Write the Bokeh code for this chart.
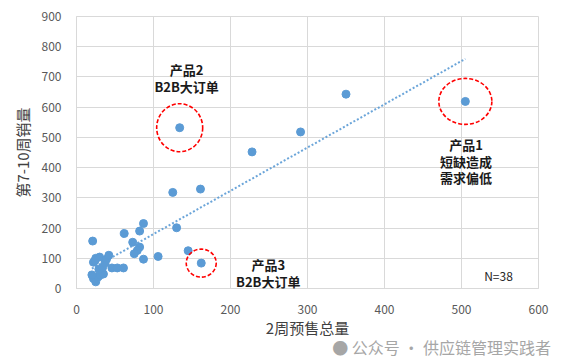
import numpy as np
from bokeh.plotting import figure
from bokeh.models import Range1d, FixedTicker, Label, Title
from bokeh.core.properties import value
from bokeh.embed import file_html
from bokeh.resources import INLINE

# 2-week pre-sale total (x) and week 7-10 sales (y), 38 products
presale = [134, 228, 291, 350, 505, 125, 161,
           87, 130, 62, 82, 21, 73, 82, 79, 75, 87, 106, 145, 162,
           22, 25, 28, 31, 35, 29, 34, 46, 53, 61, 22, 25, 30, 37, 39, 42, 20, 24]
sales = [532, 452, 518, 643, 619, 318, 329,
         215, 201, 182, 190, 157, 153, 137, 126, 115, 97, 106, 125, 84,
         33, 22, 38, 45, 48, 64, 70, 68, 68, 68, 87, 100, 104, 84, 97, 110, 45, 92]

x_ticks = [0, 100, 200, 300, 400, 500, 600]
y_ticks = [0, 100, 200, 300, 400, 500, 600, 700, 800, 900]

x_title = "2周预售总量"
y_title = "第7-10周销量"
n_label = "N=38"
watermark = "●  公众号 · 供应链管理实践者"

# highlighted products: (index into data, label lines)
highlights = [
    (4, ["产品1", "短缺造成", "需求偏低"]),
    (0, ["产品2", "B2B大订单"]),
    (19, ["产品3", "B2B大订单"]),
]

FONT = "Noto Sans CJK SC"
BLUE = "#5b9bd5"
GRID = "#d9d9d9"

p = figure(width=562, height=357, output_backend="svg", toolbar_location=None,
           x_range=Range1d(x_ticks[0], x_ticks[-1]), y_range=Range1d(y_ticks[0], y_ticks[-1]),
           min_border_left=76, min_border_right=24, min_border_top=16, min_border_bottom=69)
p.background_fill_color = "white"
p.border_fill_color = "white"
p.outline_line_color = GRID

for ax in (p.xaxis, p.yaxis):
    ax.axis_line_color = GRID
    ax.major_tick_line_color = None
    ax.minor_tick_line_color = None
    ax.major_label_text_font = FONT
    ax.major_label_text_font_size = "12px"
    ax.major_label_text_color = "#595959"
    ax.axis_label_text_font = FONT
    ax.axis_label_text_font_size = "15px"
    ax.axis_label_text_color = "#404040"
    ax.axis_label_text_font_style = "normal"

p.xaxis.ticker = FixedTicker(ticks=x_ticks)
p.yaxis.ticker = FixedTicker(ticks=y_ticks)
p.xaxis.major_label_standoff = 10
p.yaxis.major_label_standoff = 9
p.xaxis.axis_label = x_title
p.yaxis.axis_label = y_title
p.xaxis.axis_label_standoff = 0
p.yaxis.axis_label_standoff = 6

p.xgrid.ticker = FixedTicker(ticks=x_ticks)
p.ygrid.ticker = FixedTicker(ticks=y_ticks)
p.xgrid.grid_line_color = GRID
p.ygrid.grid_line_color = GRID

# linear trendline from the data
k, b = np.polyfit(presale, sales, 1)
tx = [min(presale), max(presale)]
ty = [k * v + b for v in tx]
p.line(tx, ty, line_color=BLUE, line_width=2, line_dash="2 2", line_alpha=0.9)

p.scatter(presale, sales, size=8, fill_color=BLUE, line_color=BLUE)

# red dashed circles
ex = [presale[i] for i, _ in highlights]
ey = [sales[i] for i, _ in highlights]
p.ellipse(x=ex, y=ey, width=[53, 46, 30], height=[46, 48, 28],
          width_units="screen", height_units="screen",
          fill_color=None, line_color="#ff0000", line_width=1.6, line_dash="4 2")

# annotation texts (data positions of each line)
label_pos = {
    4: (506, [476, 420, 366]),
    0: (143, [724, 668]),
    19: (249, [79, 22]),
}
for idx, lines in highlights:
    lx, lys = label_pos[idx]
    for t, ly in zip(lines, lys):
        p.add_layout(Label(x=lx, y=ly, text=t, text_align="center", text_baseline="middle",
                           text_font=FONT, text_font_size="13px", text_font_style="bold",
                           text_color="#1a1a1a"))

p.add_layout(Label(x=548, y=44, text=n_label, text_align="center", text_baseline="middle",
                   text_font=FONT, text_font_size="12px", text_color="#262626"))

wm = Title(text=watermark, align="right", vertical_align="top", offset=-16, standoff=-12,
           text_font=FONT, text_font_size="16px", text_font_style="normal",
           text_color="#a6a6a6")
p.add_layout(wm, "below")

open("out.html", "w").write(file_html(p, INLINE))
